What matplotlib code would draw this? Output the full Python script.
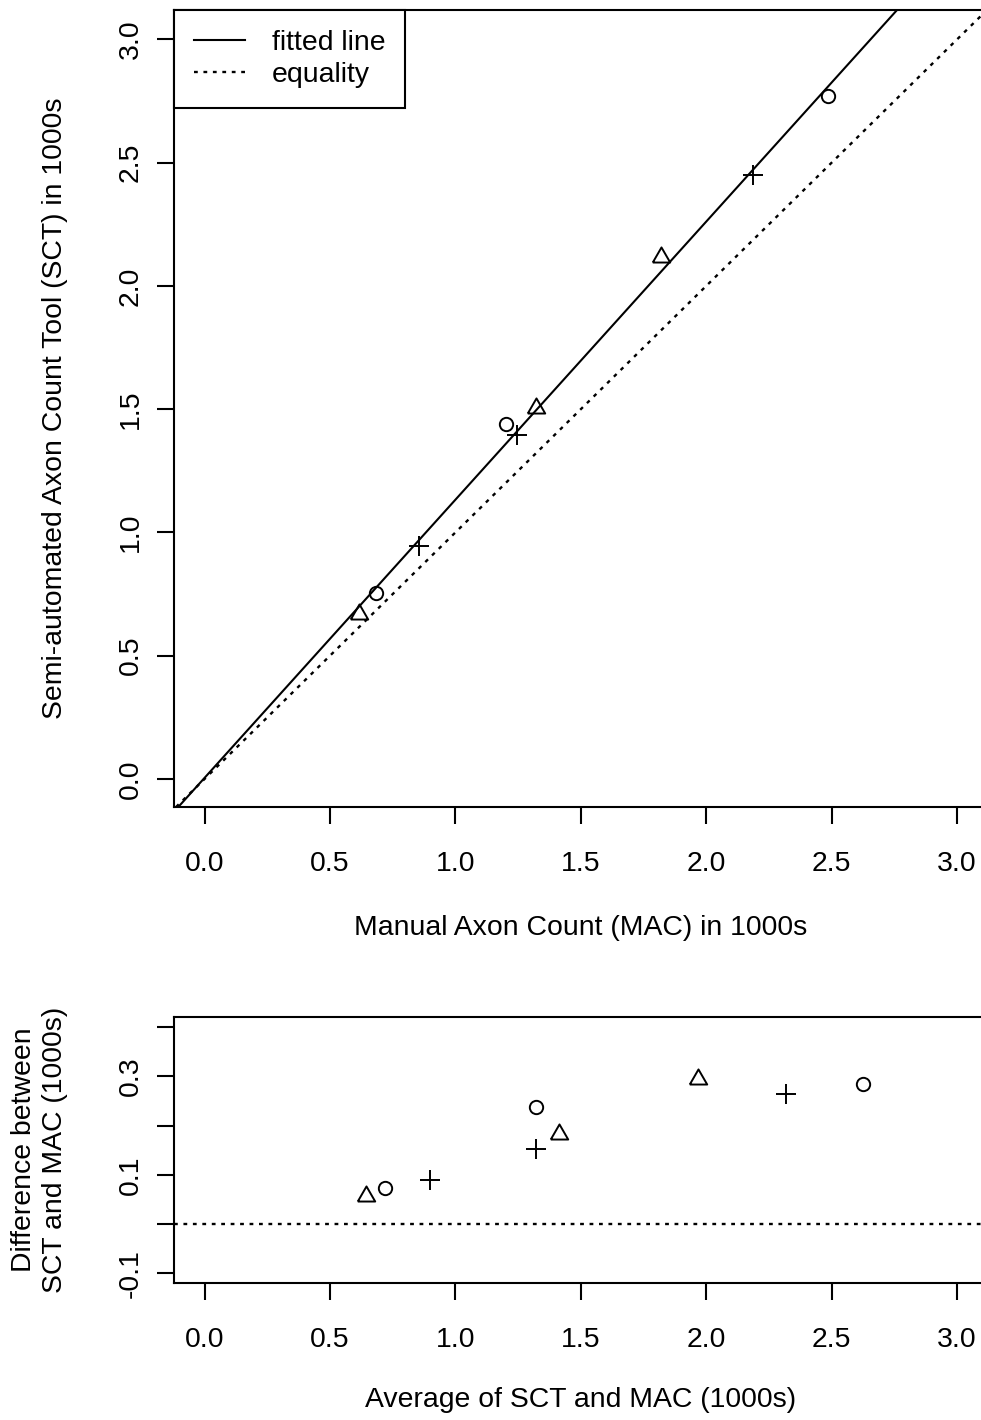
import numpy as np
import matplotlib
matplotlib.use("Agg")
import matplotlib.pyplot as plt

plt.rcParams['font.family'] = ['Liberation Sans', 'DejaVu Sans']
plt.rcParams['font.size'] = 20.4

# manual (MAC) and semi-automated (SCT) counts, in 1000s, per symbol group
mac_tri = [0.614, 1.322, 1.821]
sct_tri = [0.670, 1.504, 2.116]
mac_circ = [0.683, 1.203, 2.484]
sct_circ = [0.756, 1.440, 2.768]
mac_plus = [0.855, 1.245, 2.186]
sct_plus = [0.944, 1.397, 2.450]

x_ticks = [0.0, 0.5, 1.0, 1.5, 2.0, 2.5, 3.0]
y_ticks = [0.0, 0.5, 1.0, 1.5, 2.0, 2.5, 3.0]
diff_ticks = [-0.1, 0.0, 0.1, 0.2, 0.3, 0.4]
diff_labels = ["-0.1", "", "0.1", "", "0.3", ""]

# equilateral triangle like R's pch=2 (centroid at the point)
tri = [(-1, -0.5774), (1, -0.5774), (0, 1.1547), (-1, -0.5774)]

groups = [
    (mac_tri, sct_tri, dict(marker=tri, ms=14.5)),
    (mac_circ, sct_circ, dict(marker='o', ms=9.6)),
    (mac_plus, sct_plus, dict(marker='+', ms=15)),
]

LW = 1.5
FS = 20.4
DOTS = (0, (1.6, 2.4))


def style_axes(ax):
    for s in ax.spines.values():
        s.set_linewidth(LW)
    ax.tick_params(direction='out', length=12, width=LW, labelsize=FS)
    ax.tick_params(axis='x', pad=20)
    ax.tick_params(axis='y', pad=10)
    for lab in ax.get_yticklabels():
        lab.set_rotation(90)
        lab.set_va('center')


fig = plt.figure(figsize=(9.81, 14.2), dpi=100)
ax1 = fig.add_axes([0.1774, 0.4317, 0.829, 0.5613])
ax2 = fig.add_axes([0.1774, 0.0965, 0.829, 0.1873])

# --- top: SCT vs MAC ---
all_mac = np.concatenate([mac_tri, mac_circ, mac_plus])
all_sct = np.concatenate([sct_tri, sct_circ, sct_plus])
slope, icpt = np.polyfit(all_mac, all_sct, 1)

ax1.axline((0, icpt), slope=slope, color='black', lw=LW, label='fitted line')
ax1.axline((0, 0), slope=1, color='black', lw=1.7, ls=DOTS, label='equality')
for mac, sct, kw in groups:
    ax1.plot(mac, sct, ls='none', mfc='none', mec='black', mew=1.4, **kw)

ax1.set_xlim(-0.1216, 3.12)
ax1.set_ylim(-0.1135, 3.119)
ax1.set_xticks(x_ticks)
ax1.set_yticks(y_ticks)
ax1.set_xticklabels([f"{v:.1f}" for v in x_ticks])
ax1.set_yticklabels([f"{v:.1f}" for v in y_ticks])
style_axes(ax1)

ax1.set_xlabel('Manual Axon Count (MAC) in 1000s', fontsize=FS)
ax1.xaxis.set_label_coords(0.5, -0.152)
ax1.xaxis.label.set_va('center')
ax1.set_ylabel('Semi-automated Axon Count Tool (SCT) in 1000s', fontsize=FS)
ax1.yaxis.set_label_coords(-0.1463, 0.5)
ax1.yaxis.label.set_va('center')

leg = ax1.legend(loc='upper left', bbox_to_anchor=(0, 1), borderaxespad=0,
                 fancybox=False, edgecolor='black', framealpha=1,
                 handlelength=1.8, handletextpad=0.95, labelspacing=0.22,
                 borderpad=0.7, fontsize=FS)
leg.get_frame().set_linewidth(LW)

# --- bottom: Bland-Altman style ---
ax2.axhline(0, color='black', lw=1.7, ls=DOTS)
for mac, sct, kw in groups:
    mac = np.array(mac)
    sct = np.array(sct)
    ax2.plot((mac + sct) / 2, sct - mac, ls='none', mfc='none', mec='black',
             mew=1.4, **kw)

ax2.set_xlim(-0.1216, 3.12)
ax2.set_ylim(-0.12, 0.4207)
ax2.set_xticks(x_ticks)
ax2.set_xticklabels([f"{v:.1f}" for v in x_ticks])
ax2.set_yticks(diff_ticks)
ax2.set_yticklabels(diff_labels)
style_axes(ax2)

ax2.set_xlabel('Average of SCT and MAC (1000s)', fontsize=FS)
ax2.xaxis.set_label_coords(0.5, -0.44)
ax2.xaxis.label.set_va('center')
ax2.set_ylabel('Difference between\nSCT and MAC (1000s)', fontsize=FS,
               linespacing=1.25)
ax2.yaxis.set_label_coords(-0.1654, 0.5)
ax2.yaxis.label.set_va('center')

fig.savefig('out.png', dpi=100)
